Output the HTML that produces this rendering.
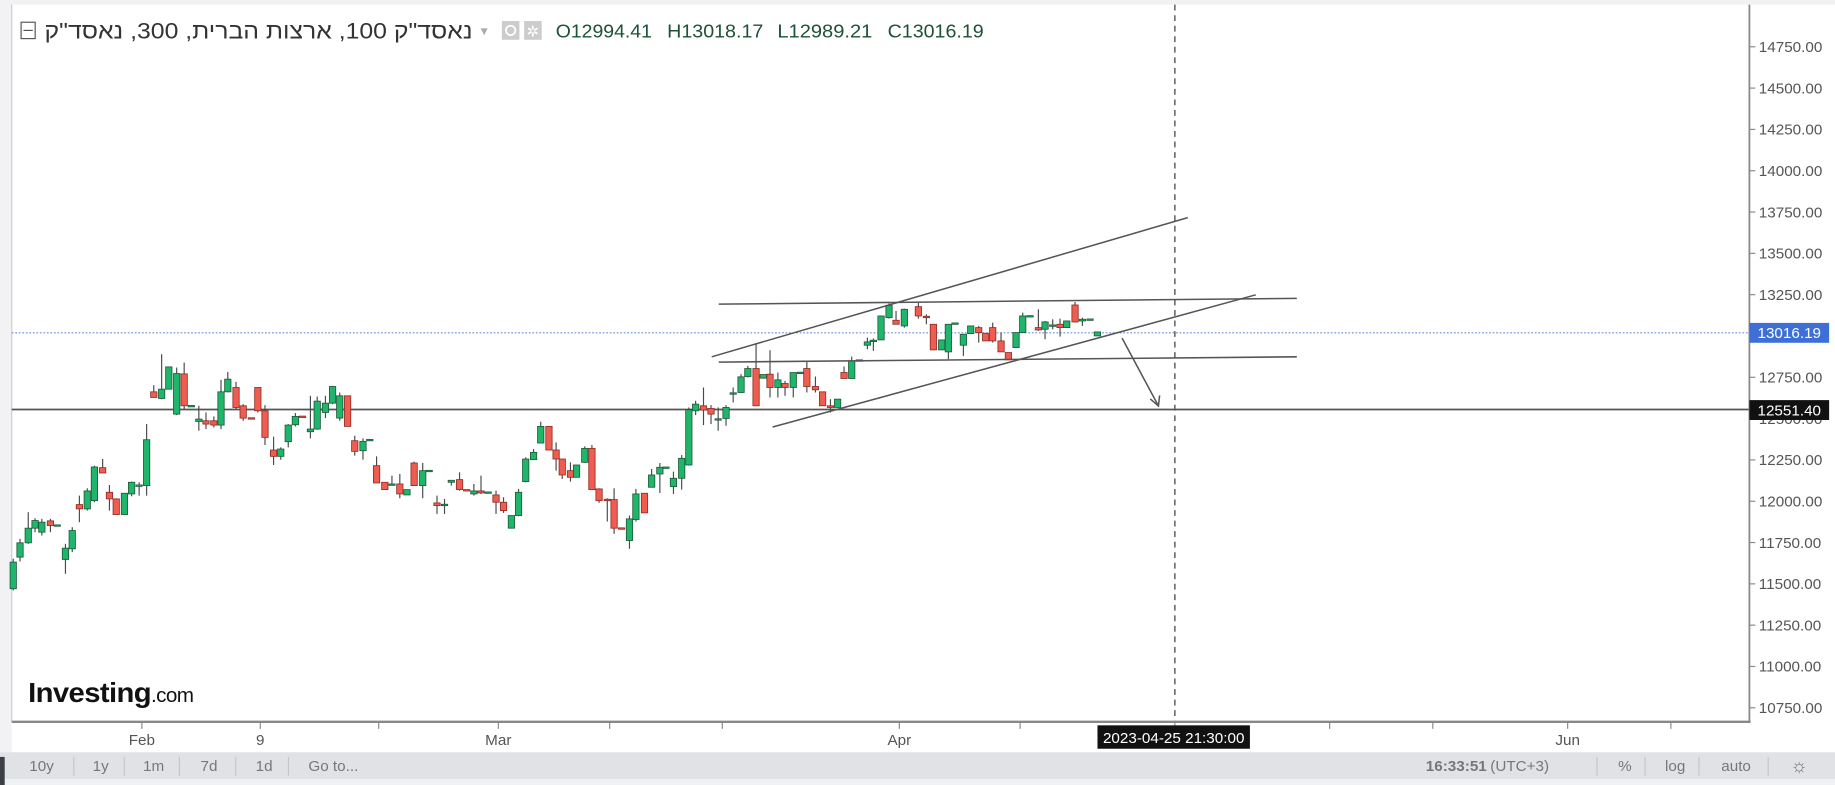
<!DOCTYPE html>
<html><head><meta charset="utf-8"><style>
html,body{margin:0;padding:0;background:#fff;overflow:hidden}
svg{display:block}
text{font-family:"Liberation Sans","Noto Sans CJK JP",sans-serif}
</style></head><body>
<svg id="s" width="1835" height="785" viewBox="0 0 1565 671" preserveAspectRatio="none" xmlns="http://www.w3.org/2000/svg">
<rect x="0" y="0" width="1565" height="671" fill="#fff"/>
<rect x="0" y="0" width="10" height="643" fill="#f2f2f4"/>
<rect x="0" y="0" width="1565" height="4" fill="#f2f2f4"/>
<line x1="10" y1="4" x2="10" y2="617" stroke="#ccc" stroke-width="1"/>
<line x1="10" y1="284.5" x2="1492" y2="284.5" stroke="#6b8fd8" stroke-width="1" stroke-dasharray="1.5,1.5"/>
<line x1="10" y1="350" x2="1492" y2="350" stroke="#555" stroke-width="1.5"/>
<line x1="1002" y1="4" x2="1002" y2="617" stroke="#555" stroke-width="1.2" stroke-dasharray="5,4"/>
<g id="candles"></g>
<g stroke="#555" stroke-width="1.3" fill="none">
<line x1="607" y1="305" x2="1013" y2="186"/>
<line x1="613" y1="260" x2="1106" y2="255"/>
<line x1="613" y1="309.5" x2="1106" y2="305"/>
<line x1="659" y1="365" x2="1071" y2="252"/>
<line x1="957" y1="289" x2="988" y2="347"/>
<polyline points="981,341 988,347 989,338"/>
</g>
<line x1="10" y1="617" x2="1493" y2="617" stroke="#888" stroke-width="2"/>
<line x1="1492" y1="4" x2="1492" y2="618" stroke="#888" stroke-width="1.5"/>
<g id="yax"></g>
<g id="xax"></g>
<rect x="1492" y="276" width="68" height="17" fill="#3d6fd6"/>
<text x="1526" y="289" fill="#fff" font-size="13" text-anchor="middle">13016.19</text>
<rect x="1492" y="342" width="68" height="17" fill="#111"/>
<text x="1526" y="355" fill="#fff" font-size="13" text-anchor="middle">12551.40</text>
<rect x="936" y="620" width="130" height="20" fill="#111"/>
<text x="1001" y="635" fill="#fff" font-size="13" text-anchor="middle">2023-04-25 21:30:00</text>
<rect x="18" y="19" width="12" height="14" fill="none" stroke="#555" stroke-width="1"/>
<line x1="20" y1="26" x2="28" y2="26" stroke="#555"/>
<text x="38" y="33" font-size="19" fill="#333" textLength="365" lengthAdjust="spacingAndGlyphs">נאסד"ק 100, ארצות הברית, 300, נאסד"ק</text>
<text x="408" y="30" font-size="10" fill="#aaa">▼</text>
<rect x="428" y="18" width="15" height="16" fill="#ccc"/><circle cx="435.5" cy="26" r="4" fill="none" stroke="#fff" stroke-width="1.5"/>
<rect x="447" y="18" width="15" height="16" fill="#ccc"/><text x="454.5" y="31" font-size="13" fill="#fff" text-anchor="middle">✲</text>
<g font-size="16" fill="#1d5236">
<text x="474" y="32" textLength="82" lengthAdjust="spacingAndGlyphs">O12994.41</text>
<text x="569" y="32" textLength="82" lengthAdjust="spacingAndGlyphs">H13018.17</text>
<text x="663" y="32" textLength="81" lengthAdjust="spacingAndGlyphs">L12989.21</text>
<text x="757" y="32" textLength="82" lengthAdjust="spacingAndGlyphs">C13016.19</text>
</g>
<text x="24" y="600" font-size="24" font-weight="bold" fill="#111" letter-spacing="-0.5" textLength="141" lengthAdjust="spacingAndGlyphs">Investing<tspan font-size="17" font-weight="normal">.com</tspan></text>
<rect x="0" y="643" width="1565" height="23" fill="#e1e2e6"/>
<rect x="0" y="666" width="1565" height="5" fill="#f0f1f4"/>
<rect x="0" y="647" width="4" height="24" fill="#3c3f48"/>
<g font-size="13" fill="#777">
<text x="25" y="659">10y</text><text x="79" y="659">1y</text><text x="122" y="659">1m</text><text x="171" y="659">7d</text><text x="218" y="659">1d</text><text x="263" y="659">Go to...</text>
<text x="1216" y="659" font-weight="bold">16:33:51</text><text x="1271" y="659">(UTC+3)</text>
<text x="1380" y="659">%</text><text x="1420" y="659">log</text><text x="1468" y="659">auto</text>
<text x="1527" y="660" font-size="16">☼</text>
</g>
<g stroke="#c4c5ca" stroke-width="1">
<line x1="63" y1="647" x2="63" y2="663"/><line x1="106" y1="647" x2="106" y2="663"/><line x1="153" y1="647" x2="153" y2="663"/><line x1="201" y1="647" x2="201" y2="663"/><line x1="246" y1="647" x2="246" y2="663"/>
<line x1="1362" y1="647" x2="1362" y2="663"/><line x1="1403" y1="647" x2="1403" y2="663"/><line x1="1449" y1="647" x2="1449" y2="663"/><line x1="1508" y1="647" x2="1508" y2="663"/>
</g>
</svg>
<script>
var NS="http://www.w3.org/2000/svg";
function el(p,t,a){var e=document.createElementNS(NS,t);for(var k in a)e.setAttribute(k,a[k]);p.appendChild(e);return e;}
var yax=document.getElementById('yax');
for(var v=14750;v>=10750;v-=250){var y=40+(14750-v)*0.14125;
el(yax,'line',{x1:1492,y1:y,x2:1497,y2:y,stroke:'#888'});
var t=el(yax,'text',{x:1500,y:y+4.5,'font-size':13,fill:'#555'});t.textContent=v.toFixed(2);}
var xax=document.getElementById('xax');
[121,222,323,425,520,616,767,870,1002,1134,1222,1337,1425].forEach(function(x){el(xax,'line',{x1:x,y1:617,x2:x,y2:623,stroke:'#888'});});
[[121,'Feb'],[222,'9'],[425,'Mar'],[767,'Apr'],[1337,'Jun']].forEach(function(a){var t=el(xax,'text',{x:a[0],y:637,'font-size':13,fill:'#555','text-anchor':'middle'});t.textContent=a[1];});
var A=[[37,670,750,660,755,1],[56,612,655,600,668,1],[79,568,612,520,615,1],[98,545,568,538,580,1],[117,550,580,540,590,1],[141,546,560,540,580,0],[160,558,560,558,560,1],[183,628,662,615,705,1],[202,575,630,565,640,1],[222,497,510,470,550,0],[244,456,510,448,515,1],[264,384,485,380,490,1],[287,386,402,360,402,0],[306,460,480,438,515,0],[325,480,527,478,527,0],[348,463,527,463,527,1],[368,430,465,428,472,1],[389,438,440,430,470,1],[410,302,440,255,470,1],[430,158,175,138,175,0],[452,150,178,45,180,1],[472,83,150,83,150,1],[494,103,225,85,228,1],[515,104,200,70,210,0],[535,199,201,199,201,1],[556,240,247,200,275,1],[576,245,255,220,270,0],[598,245,258,232,265,0],[618,158,258,122,270,1],[637,120,158,98,160,1],[660,145,205,128,210,0],[680,200,237,195,245,0],[703,236,238,236,238,0],[721,145,215,145,220,0],[741,215,295,198,318,0],[765,333,352,293,378,0],[785,330,352,325,362,1],[806,258,308,255,325,1],[826,232,257,222,262,1],[846,231,233,231,233,0],[868,270,278,170,298,1],[887,186,270,172,272,1],[910,192,220,170,237,1],[930,142,192,140,195,1],[950,170,237,160,245,1],[972,170,262,170,262,0],[992,305,337,290,350,0],[1015,307,335,298,362,1],[1034,301,303,301,303,1],[1053,380,432,352,432,0],[1076,430,452,430,452,0],[1096,435,437,410,440,1],[1118,435,465,405,478,0],[1138,452,468,452,468,1],[1158,372,440,368,440,0],[1182,395,440,372,478,1],[1200,394,396,394,396,1],[1222,492,500,470,525,0],[1243,496,498,480,525,1],[1262,424,430,424,440,1],[1285,422,452,400,455,0],[1305,452,456,452,456,0],[1325,456,465,435,470,1],[1345,456,462,410,465,0],[1365,459,461,459,461,1],[1387,468,490,455,525,0],[1408,490,515,475,522,0],[1430,530,568,530,568,1],[1450,460,530,450,532,1],[1470,360,428,355,430,1],[1492,340,362,330,362,1],[1512,262,312,248,312,1],[1535,262,333,262,333,0],[1555,333,360,310,395,0]];
var B=[[62,360,408,365,420,0],[85,395,415,370,428,0],[102,378,415,378,415,1],[125,328,370,322,372,1],[145,328,452,318,452,0],[165,450,485,448,492,0],[188,481,483,478,548,0],[207,482,568,448,585,0],[228,567,569,567,569,0],[250,540,605,530,630,1],[268,465,542,450,548,1],[292,463,522,463,522,0],[312,408,445,390,445,1],[335,385,405,372,462,1],[352,384,386,384,386,1],[373,418,443,398,465,1],[396,358,418,348,452,1],[416,212,378,205,380,1],[435,195,215,185,228,1],[457,200,213,145,258,0],[478,208,225,198,255,0],[498,239,241,205,275,1],[520,205,238,198,260,1],[540,161,163,145,190,1],[562,113,160,105,162,1],[581,88,112,80,115,1],[604,88,200,15,200,0],[624,106,117,106,117,1],[643,105,145,33,175,0],[665,122,145,100,175,1],[685,133,145,125,170,0],[708,100,145,100,175,1],[728,99,101,99,101,1],[746,88,142,68,160,0],[770,142,152,112,160,0],[790,158,200,158,200,0],[812,200,205,180,220,0],[832,180,205,180,205,1]];
var C=[[462,280,298,262,298,0],[485,245,298,232,298,1],[508,242,244,242,244,1],[532,188,198,175,210,1],[550,183,186,178,215,1],[573,110,182,110,182,1],[597,78,115,72,118,1],[618,123,135,95,135,0],[643,90,140,88,145,1],[685,82,110,68,118,0],[709,111,115,105,135,0],[730,135,212,135,212,0],[755,182,212,182,212,1],[775,135,218,135,240,1],[795,131,133,131,133,1],[820,165,198,165,230,1],[842,140,163,140,163,1],[866,145,160,140,190,0],[887,162,185,162,185,0],[908,145,185,130,190,0],[933,185,218,160,218,0],[955,220,242,220,242,0],[978,160,205,160,205,1],[998,110,160,100,160,1],[1020,109,111,109,111,1],[1045,145,152,90,155,0],[1065,128,150,125,180,1],[1088,137,139,120,150,1],[1110,135,145,118,172,0],[1130,125,145,125,145,1],[1155,77,128,68,130,0],[1177,120,125,115,140,1],[1200,119,121,119,121,1],[1222,158,170,158,170,1]];
var g=document.getElementById('candles');
function draw(list,fx,fy){list.forEach(function(c){var x=fx(c[0]);var t=fy(c[1]),b=fy(c[2]),wt=fy(c[3]),wb=fy(c[4]);
el(g,'line',{x1:x,y1:Math.min(wt,t),x2:x,y2:Math.max(wb,b),stroke:'#4a4a4a','stroke-width':1});
var h=Math.max(b-t,1.2);
el(g,'rect',{x:x-2.7,y:t,width:5.4,height:h,fill:c[5]?'#1fb56a':'#ef5d50',stroke:c[5]?'#1c5a3a':'#8c2d26','stroke-width':0.7});});}
draw(A,function(z){return z*0.305;},function(z){return 290+z*0.2843;});
draw(B,function(z){return 460.6+z*0.305;},function(z){return 290+z*0.2843;});
draw(C,function(z){return 588.5+z*0.2843;},function(z){return 238.8+z*0.2843;});
</script>
</body></html>
